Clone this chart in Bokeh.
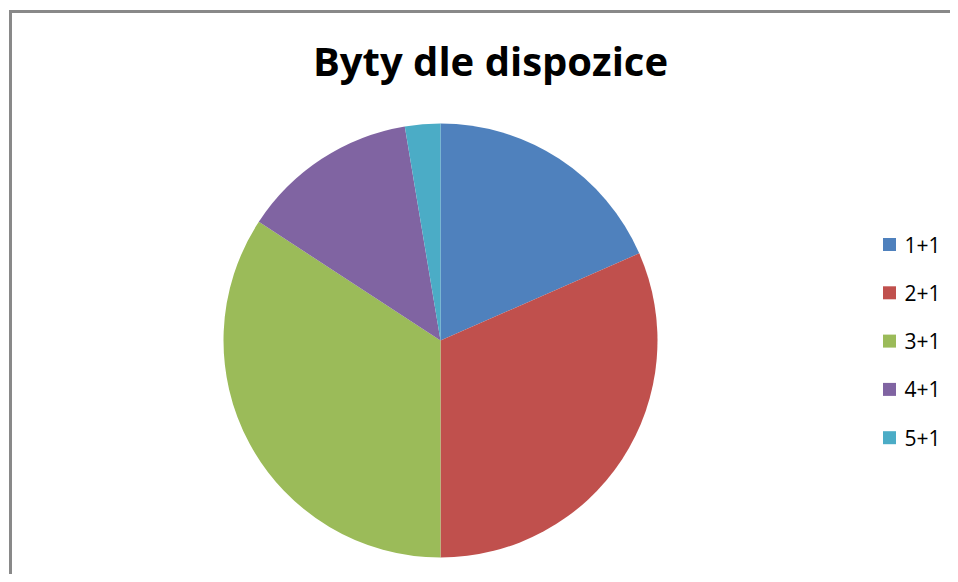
from math import pi
from bokeh.plotting import figure
from bokeh.models import Range1d, ColumnDataSource
from bokeh.core.properties import value
from bokeh.embed import file_html
from bokeh.resources import INLINE

categories = ["1+1", "2+1", "3+1", "4+1", "5+1"]
counts = [7, 12, 13, 5, 1]
colors = ["#4F81BD", "#C0504D", "#9BBB59", "#8064A2", "#4BACC6"]
title_text = "Byty dle dispozice"

W, H = 950, 574
p = figure(width=W, height=H, output_backend="svg", toolbar_location=None,
           x_range=Range1d(0, W), y_range=Range1d(0, H),
           min_border=0, outline_line_color=None)
p.axis.visible = False
p.grid.visible = False
p.background_fill_color = "white"
p.border_fill_color = "white"

def px(x):
    return x

def py(y):
    return H - y

# border (left and top)
p.line([px(10), px(10), W], [-10, py(11), py(11)], line_color="#898989", line_width=3,
       line_join="miter")

# pie, clockwise from 12 o'clock
total = sum(counts)
starts, ends = [], []
a = pi / 2
for c in counts:
    span = 2 * pi * c / total
    ends.append(a)
    starts.append(a - span)
    a -= span
src = ColumnDataSource(dict(start=starts, end=ends, color=colors, cat=categories))
p.wedge(x=px(440), y=py(340), radius=217, start_angle="start", end_angle="end",
        fill_color="color", line_color=None, source=src)

# title
p.text(x=[px(490)], y=[py(60)], text=[title_text], text_font=value("Open Sans"),
       text_font_style="bold", text_font_size="40px", text_align="center",
       text_baseline="middle", text_color="black")

# legend
lx = [px(889)] * len(categories)
ly = [py(244 + 48.3 * i) for i in range(len(categories))]
p.rect(x=lx, y=ly, width=13, height=13, fill_color=colors, line_color=None)
p.text(x=[px(904)] * len(categories), y=ly, text=categories, text_font=value("Open Sans"),
       text_font_size="21px", text_align="left", text_baseline="middle", text_color="black")

open("out.html", "w").write(file_html(p, INLINE))
